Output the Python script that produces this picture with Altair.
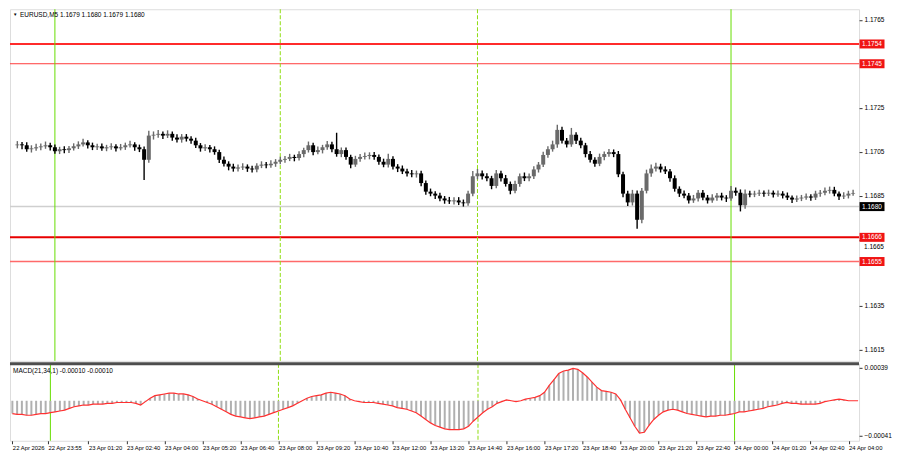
import altair as alt
import pandas as pd

# ---------------- data (EURUSD, 10-minute bars, minutes from 23 Apr 00:00) ----------------
bar_minutes = list(range(-80, 1701, 10))

first_open = 1.17079
closes = [
    1.17083, 1.17079, 1.17061, 1.17065, 1.17070, 1.17074, 1.17079, 1.17070, 1.17052, 1.17061,
    1.17057, 1.17065, 1.17074, 1.17083, 1.17092, 1.17079, 1.17070, 1.17074, 1.17065, 1.17070,
    1.17074, 1.17065, 1.17070, 1.17079, 1.17083, 1.17070, 1.17061, 1.17013, 1.17123, 1.17127,
    1.17131, 1.17123, 1.17131, 1.17114, 1.17105, 1.17118, 1.17109, 1.17100, 1.17079, 1.17065,
    1.17070, 1.17061, 1.17048, 1.17013, 1.16995, 1.16982, 1.16973, 1.16978, 1.16982, 1.16973,
    1.16969, 1.16986, 1.16991, 1.16988, 1.16995, 1.17004, 1.17013, 1.17017, 1.17026, 1.17021,
    1.17039, 1.17057, 1.17079, 1.17048, 1.17057, 1.17070, 1.17083, 1.17061, 1.17039, 1.17057,
    1.17026, 1.16991, 1.17017, 1.17026, 1.17030, 1.17035, 1.17026, 1.17004, 1.16991, 1.17017,
    1.16982, 1.16973, 1.16960, 1.16951, 1.16947, 1.16951, 1.16907, 1.16868, 1.16859, 1.16850,
    1.16837, 1.16828, 1.16824, 1.16828, 1.16819, 1.16815, 1.16859, 1.16938, 1.16951, 1.16938,
    1.16929, 1.16894, 1.16951, 1.16929, 1.16903, 1.16872, 1.16903, 1.16938, 1.16929, 1.16938,
    1.16969, 1.16991, 1.17035, 1.17061, 1.17083, 1.17149, 1.17100, 1.17083, 1.17127, 1.17100,
    1.17079, 1.17039, 1.17013, 1.16995, 1.17026, 1.17039, 1.17048, 1.17039, 1.16947, 1.16859,
    1.16819, 1.16859, 1.16740, 1.16872, 1.16951, 1.16973, 1.16982, 1.16969, 1.16960, 1.16929,
    1.16881, 1.16859, 1.16850, 1.16828, 1.16837, 1.16863, 1.16841, 1.16828, 1.16841, 1.16850,
    1.16841, 1.16837, 1.16872, 1.16863, 1.16806, 1.16859, 1.16855, 1.16859, 1.16863, 1.16859,
    1.16863, 1.16855, 1.16859, 1.16850, 1.16841, 1.16832, 1.16837, 1.16841, 1.16846, 1.16841,
    1.16859, 1.16863, 1.16872, 1.16876, 1.16859, 1.16846, 1.16850, 1.16859, 1.16862,
]
highs = [
    1.17098, 1.17094, 1.17093, 1.17079, 1.17086, 1.17087, 1.17096, 1.17091, 1.17083, 1.17072,
    1.17074, 1.17076, 1.17088, 1.17097, 1.17109, 1.17102, 1.17091, 1.17086, 1.17087, 1.17081,
    1.17088, 1.17084, 1.17085, 1.17091, 1.17100, 1.17093, 1.17082, 1.17073, 1.17145, 1.17142,
    1.17148, 1.17142, 1.17147, 1.17142, 1.17129, 1.17130, 1.17130, 1.17120, 1.17113, 1.17089,
    1.17084, 1.17080, 1.17074, 1.17059, 1.17028, 1.17006, 1.16995, 1.16992, 1.16997, 1.16992,
    1.16986, 1.16997, 1.17006, 1.17003, 1.17011, 1.17016, 1.17027, 1.17030, 1.17040, 1.17036,
    1.17052, 1.17068, 1.17096, 1.17090, 1.17073, 1.17081, 1.17098, 1.17095, 1.17136, 1.17069,
    1.17069, 1.17036, 1.17031, 1.17039, 1.17046, 1.17047, 1.17048, 1.17037, 1.17018, 1.17041,
    1.17029, 1.16993, 1.16987, 1.16972, 1.16966, 1.16964, 1.16963, 1.16919, 1.16882, 1.16870,
    1.16863, 1.16848, 1.16844, 1.16843, 1.16843, 1.16832, 1.16872, 1.16962, 1.16971, 1.16964,
    1.16952, 1.16940, 1.16966, 1.16963, 1.16944, 1.16914, 1.16918, 1.16951, 1.16955, 1.16951,
    1.16983, 1.17003, 1.17049, 1.17074, 1.17100, 1.17172, 1.17163, 1.17112, 1.17158, 1.17138,
    1.17113, 1.17090, 1.17053, 1.17025, 1.17041, 1.17051, 1.17062, 1.17060, 1.17053, 1.16958,
    1.16872, 1.16876, 1.16873, 1.16885, 1.16968, 1.16991, 1.16999, 1.16995, 1.16983, 1.16971,
    1.16942, 1.16892, 1.16873, 1.16862, 1.16853, 1.16875, 1.16875, 1.16853, 1.16856, 1.16862,
    1.16863, 1.16852, 1.16894, 1.16887, 1.16878, 1.16878, 1.16872, 1.16872, 1.16877, 1.16873,
    1.16877, 1.16873, 1.16873, 1.16870, 1.16864, 1.16851, 1.16850, 1.16853, 1.16860, 1.16856,
    1.16872, 1.16876, 1.16887, 1.16891, 1.16890, 1.16869, 1.16865, 1.16872, 1.16877,
]
lows = [
    1.17065, 1.17061, 1.17049, 1.17046, 1.17054, 1.17056, 1.17063, 1.17055, 1.17040, 1.17039,
    1.17043, 1.17044, 1.17055, 1.17062, 1.17073, 1.17064, 1.17057, 1.17058, 1.17054, 1.17052,
    1.17059, 1.17051, 1.17056, 1.17058, 1.17069, 1.17054, 1.17048, 1.16921, 1.16999, 1.17105,
    1.17113, 1.17107, 1.17112, 1.17100, 1.17092, 1.17091, 1.17096, 1.17086, 1.17067, 1.17050,
    1.17053, 1.17046, 1.17036, 1.16998, 1.16982, 1.16965, 1.16959, 1.16960, 1.16966, 1.16958,
    1.16955, 1.16956, 1.16975, 1.16974, 1.16977, 1.16981, 1.16993, 1.17000, 1.17007, 1.17006,
    1.17010, 1.17025, 1.17046, 1.17034, 1.17038, 1.17042, 1.17059, 1.17047, 1.17027, 1.17025,
    1.17013, 1.16975, 1.16981, 1.17004, 1.17014, 1.17015, 1.17013, 1.16990, 1.16979, 1.16978,
    1.16969, 1.16957, 1.16948, 1.16937, 1.16934, 1.16932, 1.16893, 1.16854, 1.16847, 1.16835,
    1.16824, 1.16813, 1.16812, 1.16810, 1.16807, 1.16800, 1.16804, 1.16847, 1.16924, 1.16923,
    1.16915, 1.16879, 1.16884, 1.16914, 1.16891, 1.16856, 1.16861, 1.16890, 1.16916, 1.16915,
    1.16926, 1.16955, 1.16980, 1.17022, 1.17050, 1.17068, 1.17087, 1.17069, 1.17072, 1.17085,
    1.17066, 1.17024, 1.17001, 1.16981, 1.16984, 1.17011, 1.17027, 1.17025, 1.16934, 1.16843,
    1.16803, 1.16805, 1.16699, 1.16724, 1.16860, 1.16936, 1.16960, 1.16955, 1.16948, 1.16913,
    1.16868, 1.16844, 1.16838, 1.16814, 1.16817, 1.16823, 1.16829, 1.16814, 1.16817, 1.16827,
    1.16828, 1.16821, 1.16827, 1.16849, 1.16778, 1.16790, 1.16843, 1.16843, 1.16848, 1.16845,
    1.16848, 1.16841, 1.16845, 1.16837, 1.16830, 1.16816, 1.16821, 1.16825, 1.16831, 1.16827,
    1.16830, 1.16845, 1.16852, 1.16859, 1.16847, 1.16830, 1.16834, 1.16837, 1.16849,
]
macd = [
    -0.00015, -0.00016, -0.00016, -0.00017, -0.00017, -0.00016, -0.00015, -0.00015, -0.00014, -0.00013,
    -0.00012, -0.00011, -0.00009, -0.00007, -0.00006, -0.00005, -0.00005, -0.00004, -0.00004, -0.00004,
    -0.00003, -0.00003, -0.00002, -0.00002, -0.00002, -0.00002, -0.00003, -0.00005, -0.00001, 0.00003,
    0.00006, 0.00007, 0.00008, 0.00009, 0.00009, 0.00008, 0.00008, 0.00007, 0.00005, 0.00002,
    0.00000, -0.00002, -0.00004, -0.00007, -0.00010, -0.00013, -0.00016, -0.00018, -0.00019, -0.00020,
    -0.00021, -0.00020, -0.00019, -0.00018, -0.00016, -0.00014, -0.00012, -0.00010, -0.00008, -0.00006,
    -0.00003, 0.00000, 0.00003, 0.00005, 0.00006, 0.00007, 0.00009, 0.00010, 0.00009, 0.00008,
    0.00006, 0.00002, 0.00000, -0.00001, -0.00002, -0.00002, -0.00002, -0.00003, -0.00004, -0.00005,
    -0.00006, -0.00008, -0.00009, -0.00010, -0.00012, -0.00014, -0.00018, -0.00022, -0.00026, -0.00029,
    -0.00031, -0.00033, -0.00034, -0.00034, -0.00034, -0.00033, -0.00030, -0.00024, -0.00019, -0.00014,
    -0.00010, -0.00007, -0.00003, -0.00001, 0.00001, 0.00000, -0.00001, 0.00000, 0.00002, 0.00003,
    0.00004, 0.00006, 0.00010, 0.00018, 0.00025, 0.00032, 0.00035, 0.00036, 0.00038, 0.00037,
    0.00033, 0.00028, 0.00022, 0.00016, 0.00012, 0.00011, 0.00010, 0.00008, 0.00001, -0.00010,
    -0.00020, -0.00030, -0.00038, -0.00037, -0.00029, -0.00022, -0.00017, -0.00013, -0.00011, -0.00010,
    -0.00011, -0.00013, -0.00015, -0.00016, -0.00017, -0.00018, -0.00019, -0.00018, -0.00018, -0.00017,
    -0.00017, -0.00016, -0.00015, -0.00013, -0.00013, -0.00012, -0.00011, -0.00010, -0.00009, -0.00007,
    -0.00006, -0.00005, -0.00003, -0.00002, -0.00003, -0.00003, -0.00004, -0.00004, -0.00004, -0.00004,
    -0.00003, -0.00001, 0.00000, 0.00001, 0.00002, 0.00001, 0.00000, 0.00000, 0.00000,
]

level_prices = [1.1754, 1.1745, 1.1666, 1.1655]
current_price = 1.1680
price_ticks = [1.1765, 1.1735, 1.1725, 1.1715, 1.1705, 1.1695, 1.1685, 1.1675, 1.1665,
               1.1645, 1.1635, 1.1625, 1.1615]
partly_hidden_tick = 1.1665
macd_ticks = [0.00039, 0.0, -0.00041]
day_separators = [0, 1440]
session_markers = [480, 900]
time_tick_minutes = [-80, -5, 80, 160, 240, 320, 400, 480, 560, 640, 720, 800, 880, 960,
                     1040, 1120, 1200, 1280, 1360, 1440, 1520, 1600, 1680]
time_tick_labels = ["22 Apr 2026", "22 Apr 23:55", "23 Apr 01:20", "23 Apr 02:40", "23 Apr 04:00",
                    "23 Apr 05:20", "23 Apr 06:40", "23 Apr 08:00", "23 Apr 09:20", "23 Apr 10:40",
                    "23 Apr 12:00", "23 Apr 13:20", "23 Apr 14:40", "23 Apr 16:00", "23 Apr 17:20",
                    "23 Apr 18:40", "23 Apr 20:00", "23 Apr 21:20", "23 Apr 22:40", "24 Apr 00:00",
                    "24 Apr 01:20", "24 Apr 02:40", "24 Apr 04:00"]
title_text = "EURUSD,M5  1.1679 1.1680 1.1679 1.1680"
macd_text = "MACD(21,34,1) -0.00010 -0.00010"

# ---------------- layout / style ----------------
W = 850
H_MAIN = 352
H_MACD = 77
FONT = "Liberation Sans"
FS = 6.5
FS_TIME = 5.9
X_DOMAIN = [-85, 1702]
PRICE_DOMAIN = [1.16098, 1.17698]
MACD_DOMAIN = [-0.00047, 0.000434]

opens = [first_open] + closes[:-1]
df = pd.DataFrame({"m": bar_minutes, "open": opens, "high": highs, "low": lows,
                   "close": closes, "macd": macd})
df["zero"] = 0.0

x_plain = alt.X("m:Q", scale=alt.Scale(domain=X_DOMAIN, nice=False, zero=False), axis=None)
price_scale = alt.Scale(domain=PRICE_DOMAIN, nice=False, zero=False)
price_axis = alt.Axis(orient="right", values=price_ticks,
                      labelExpr=f"datum.value == {partly_hidden_tick} ? '' : format(datum.value, '.4f')",
                      grid=False, tickSize=3,
                      labelFontSize=FS, labelFont=FONT, labelColor="black", tickColor="#333333",
                      domain=False, title=None, labelPadding=2)

bull = alt.condition("datum.close >= datum.open", alt.value("#6a6a6a"), alt.value("#000000"))

levels_df = pd.DataFrame({"level": level_prices})
cur_df = pd.DataFrame({"level": [current_price]})
sep_df = pd.DataFrame({"m": day_separators})
ses_df = pd.DataFrame({"m": session_markers})
one = pd.DataFrame({"t": [title_text]})

cur_line = alt.Chart(cur_df).mark_rule(color="#cfcfcf", strokeWidth=1.5).encode(
    y=alt.Y("level:Q", scale=price_scale, axis=price_axis))

level_styles = [("#ff2b2b", 2), ("#ff3b3b", 1), ("#e80000", 2), ("#ff6a6a", 1.5)]
level_lines = []
for lvl, (col, sw) in zip(level_prices, level_styles):
    level_lines.append(alt.Chart(pd.DataFrame({"level": [lvl]})).mark_rule(
        color=col, strokeWidth=sw).encode(y="level:Q"))

sep_lines = alt.Chart(sep_df).mark_rule(color="#66dd00", strokeWidth=1).encode(x=x_plain)
ses_lines = alt.Chart(ses_df).mark_rule(color="#8fdd10", strokeWidth=1,
                                        strokeDash=[4, 2]).encode(x=x_plain)

wicks = alt.Chart(df).mark_rule(strokeWidth=1.4).encode(
    x=x_plain, y=alt.Y("low:Q", scale=price_scale, axis=price_axis), y2="high:Q", color=bull)
bodies = alt.Chart(df).mark_bar(width=4).encode(
    x=x_plain, y="open:Q", y2="close:Q", color=bull)

tri = alt.Chart(one).mark_text(text="\u25bc", fontSize=4.5, align="left", baseline="middle",
                               color="black").encode(x=alt.value(3), y=alt.value(6))
title = alt.Chart(one).mark_text(font=FONT, fontSize=FS, align="left", baseline="middle",
                                 color="black").encode(x=alt.value(10), y=alt.value(6), text="t:N")

box_x = W + 13
level_boxes = alt.Chart(levels_df).mark_tick(orient="horizontal", size=25, thickness=9,
                                             color="#f01414", opacity=1).encode(
    x=alt.value(box_x), y="level:Q")
level_texts = alt.Chart(levels_df).mark_text(font=FONT, fontSize=FS, color="white",
                                             align="center", baseline="middle").encode(
    x=alt.value(box_x), y="level:Q", text=alt.Text("level:Q", format=".4f"))
cur_box = alt.Chart(cur_df).mark_tick(orient="horizontal", size=25, thickness=9,
                                      color="#000000", opacity=1).encode(
    x=alt.value(box_x), y="level:Q")
cur_text = alt.Chart(cur_df).mark_text(font=FONT, fontSize=FS, color="white",
                                       align="center", baseline="middle").encode(
    x=alt.value(box_x), y="level:Q", text=alt.Text("level:Q", format=".4f"))
# tick label that sits just under the 1.1666 box, as on the terminal
hidden_lbl = alt.Chart(pd.DataFrame({"level": [partly_hidden_tick]})).mark_text(
    font=FONT, fontSize=FS, color="black", align="left", baseline="top", dy=4.6).encode(
    x=alt.value(W + 5), y="level:Q", text=alt.Text("level:Q", format=".4f"))

main = alt.layer(cur_line, *level_lines, sep_lines, ses_lines, wicks, bodies, tri, title,
                 level_boxes, level_texts, cur_box, cur_text, hidden_lbl).properties(
    width=W, height=H_MAIN)

# ---------------- MACD panel ----------------
label_expr = ("[" + ",".join("'" + s + "'" for s in time_tick_labels) + "][indexof(["
              + ",".join(str(v) for v in time_tick_minutes) + "], datum.value)]")
x_time = alt.X("m:Q", scale=alt.Scale(domain=X_DOMAIN, nice=False, zero=False),
               axis=alt.Axis(values=time_tick_minutes, labelExpr=label_expr, labelAlign="left",
                             grid=False, tickSize=3, labelPadding=1, labelFontSize=FS_TIME,
                             labelFont=FONT, labelColor="black", tickColor="#333333",
                             domain=False, labelOverlap=False, labelFlush=False, title=None))
macd_scale = alt.Scale(domain=MACD_DOMAIN, nice=False, zero=False)
macd_axis = alt.Axis(orient="right", values=macd_ticks,
                     labelExpr="datum.value == 0 ? '0.00' : format(datum.value, '.5f')",
                     grid=False, tickSize=3, labelFontSize=FS, labelFont=FONT,
                     labelColor="black", tickColor="#333333", domain=False, title=None,
                     labelPadding=2)

hist = alt.Chart(df).mark_rule(strokeWidth=2, color="#b0b0b0").encode(
    x=x_time, y=alt.Y("macd:Q", scale=macd_scale, axis=macd_axis), y2="zero:Q")
sig = alt.Chart(df).mark_line(color="#ff3030", strokeWidth=1.2).encode(x=x_time, y="macd:Q")
sep_lines2 = alt.Chart(sep_df).mark_rule(color="#66dd00", strokeWidth=1).encode(x=x_time)
ses_lines2 = alt.Chart(ses_df).mark_rule(color="#8fdd10", strokeWidth=1,
                                         strokeDash=[4, 2]).encode(x=x_time)
top_bar = alt.Chart(one).mark_rule(color="#4d4d4d", strokeWidth=3).encode(
    x=alt.value(0), x2=alt.value(W), y=alt.value(0))
macd_label = alt.Chart(pd.DataFrame({"t": [macd_text]})).mark_text(
    font=FONT, fontSize=FS, align="left", baseline="middle", color="black").encode(
    x=alt.value(3), y=alt.value(7), text="t:N")

macd_panel = alt.layer(sep_lines2, ses_lines2, hist, sig, top_bar, macd_label).properties(
    width=W, height=H_MACD)

chart = alt.vconcat(main, macd_panel, spacing=0).resolve_scale(y="independent").properties(
    padding={"left": 0, "top": 0, "right": 0, "bottom": 0}
).configure_view(stroke="#555555", strokeWidth=1).configure(background="white")

chart.save("out.html", embed_options={"renderer": "svg", "actions": False})
